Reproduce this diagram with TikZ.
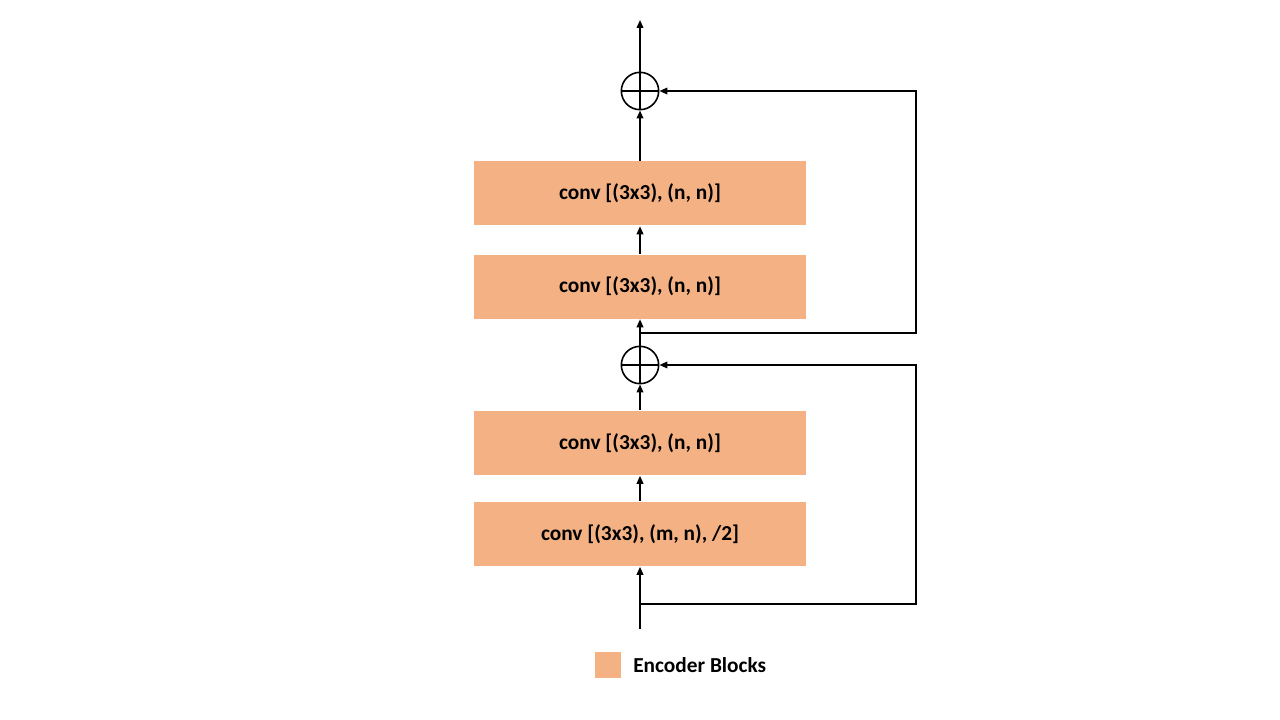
\documentclass[tikz,border=0pt]{standalone}
\usepackage{fontspec}
\setmainfont{Carlito}
\usetikzlibrary{arrows.meta,positioning}
\definecolor{encoder}{HTML}{F4B183}

\begin{document}
\begin{tikzpicture}[x=0.75pt, y=-0.75pt, line width=1.2pt,
  >={Triangle[length=6pt,width=5pt]},
  block/.style={rectangle, fill=encoder, minimum width=249pt, minimum height=48pt,
    font=\bfseries\fontsize{16}{18}\selectfont},
  adder/.style={circle, draw, minimum size=28pt, inner sep=0pt}]
  \useasboundingbox (0,0) rectangle (1280,720);

  % Nodes
  \draw (640,534) node(b1) [block] {conv [(3x3), (m, n), /2]};
  \draw (640,443) node(b2) [block] {conv [(3x3), (n, n)]};
  \draw (640,286.5) node(b3) [block] {conv [(3x3), (n, n)]};
  \draw (640,193.5) node(b4) [block] {conv [(3x3), (n, n)]};

  \draw (640,365) node(s1) [adder] {};
  \draw (640,91)  node(s2) [adder] {};
  \foreach \s in {s1,s2}{
    \draw (\s.north) -- (\s.south);
    \draw (\s.west) -- (\s.east);
  };

  \coordinate (in)  at (640,629);
  \coordinate (out) at (640,20);
  \coordinate (t1)  at (640,604);
  \coordinate (r1)  at (916,604);
  \coordinate (t2)  at (640,333);
  \coordinate (r2)  at (916,333);

  % Edges
  \draw[->] (in) -- (b1);
  \draw[->] (b1) -- (b2);
  \draw[->] (b2) -- (s1);
  \draw[->] (s1) -- (b3);
  \draw[->] (b3) -- (b4);
  \draw[->] (b4) -- (s2);
  \draw[->] (s2) -- (out);

  % Skips
  \draw[->] (t1) -- (r1) |- (s1);
  \draw[->] (t2) -- (r2) |- (s2);

  % Legend
  \draw (608,665) node(key) [rectangle, fill=encoder, minimum size=19.5pt, inner sep=0pt] {};
  \node (keytext) [right=8pt of key, inner sep=0pt, font=\bfseries\fontsize{16}{18}\selectfont] {Encoder Blocks};

\end{tikzpicture}
\end{document}
